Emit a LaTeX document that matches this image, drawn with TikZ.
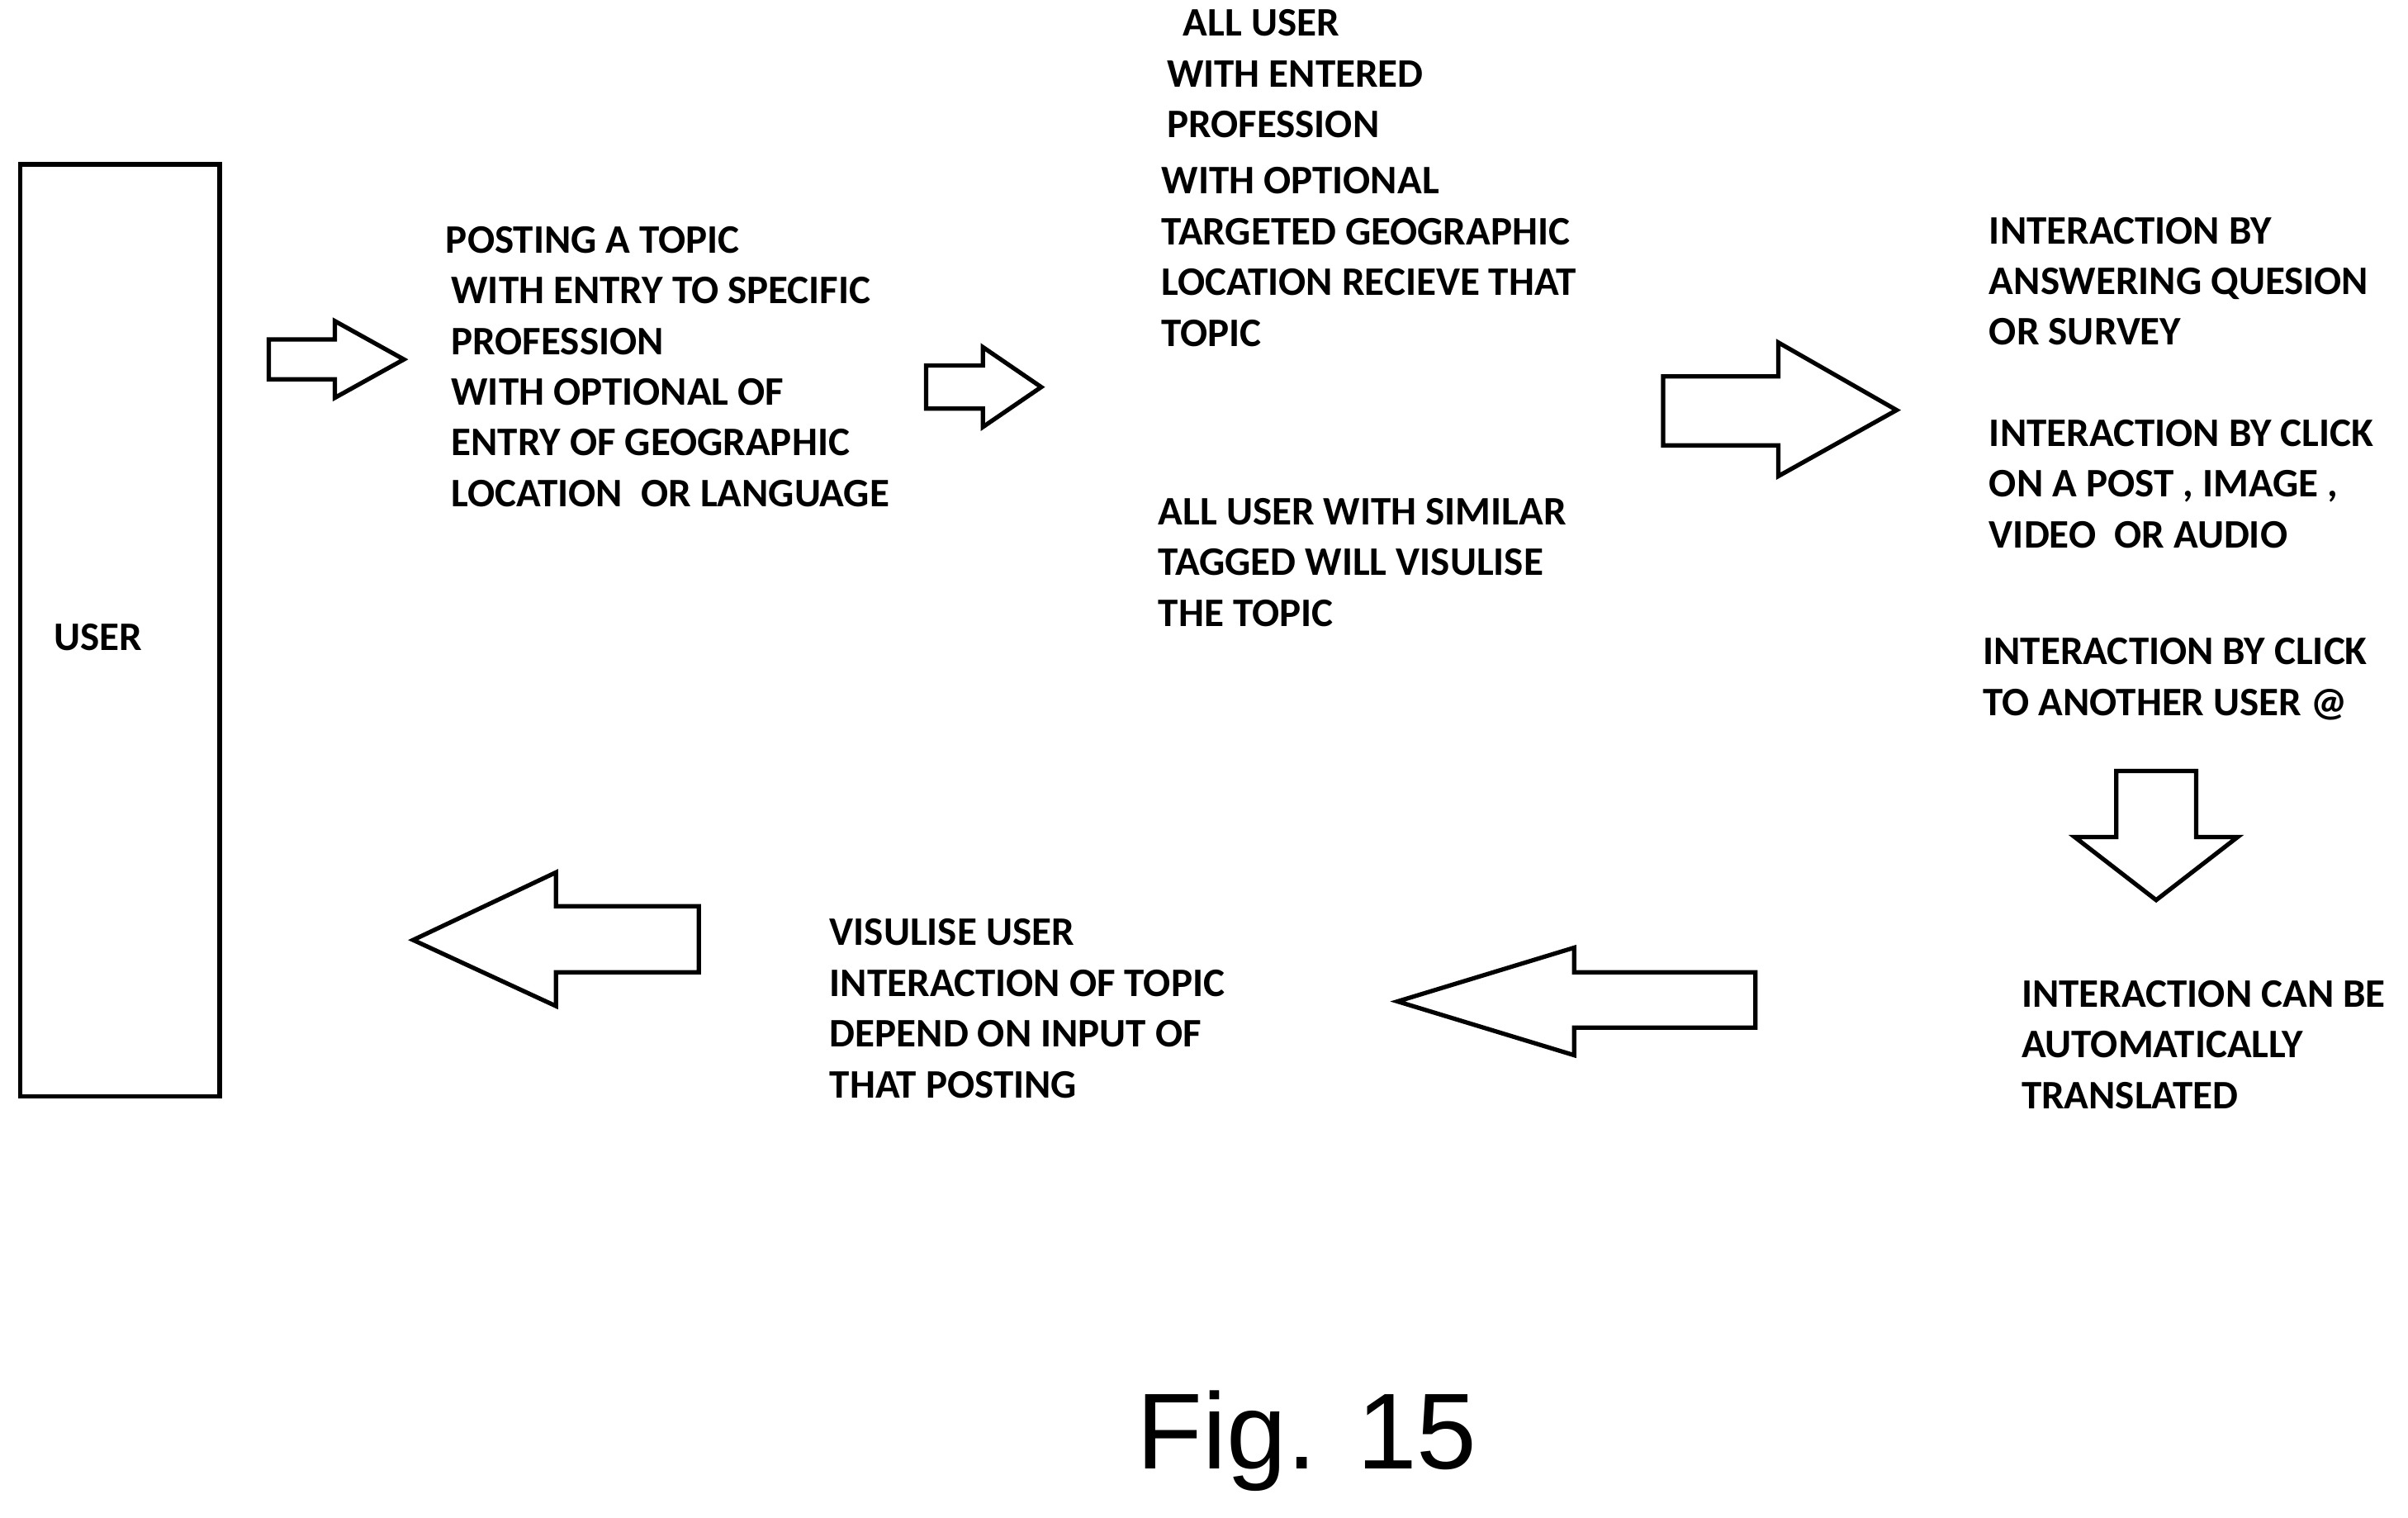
\documentclass[tikz,border=0pt]{standalone}
\usepackage{fontspec}
\setmainfont{Carlito}
\newfontfamily\figfont{Liberation Sans}
\usetikzlibrary{positioning}
\tikzset{
    blockarrow/.style={draw=black, line width=1.6pt, fill=white, line join=miter},
    flowtext/.style={anchor=north west, inner sep=0pt, align=left,
        font=\bfseries\fontsize{15}{18.8}\selectfont}
}
\begin{document}
\begin{tikzpicture}[x=0.2mm, y=-0.2mm]
        \useasboundingbox (0,0) rectangle (1568,988);
        % User box
        \draw[line width=1.6pt] (13,107) rectangle (143,714);
        \node[flowtext, anchor=west] (user) at (35,415) {USER};

        % Text blocks
        \node[flowtext] (posting) at (290,147) {POSTING A TOPIC\\
            \hspace{2pt}WITH ENTRY TO SPECIFIC\\
            \hspace{2pt}PROFESSION\\
            \hspace{2pt}WITH OPTIONAL OF\\
            \hspace{2pt}ENTRY OF GEOGRAPHIC\\
            \hspace{2pt}LOCATION\ \ OR LANGUAGE};
        \node[flowtext] (receive) at (756,6) {\hspace{8pt}ALL USER\\
            \hspace{2pt}WITH ENTERED\\
            \hspace{2pt}PROFESSION\\[2pt]
            WITH OPTIONAL\\
            TARGETED GEOGRAPHIC\\
            LOCATION RECIEVE THAT\\
            TOPIC};
        \node[flowtext] (tagged) at (754,324) {ALL USER WITH SIMILAR\\
            TAGGED WILL VISULISE\\
            THE TOPIC};
        \node[flowtext] (answer) at (1295,141) {INTERACTION BY\\
            ANSWERING QUESION\\
            OR SURVEY};
        \node[flowtext] (click) at (1295,273) {INTERACTION BY CLICK\\
            ON A POST , IMAGE ,\\
            VIDEO\ \ OR AUDIO};
        \node[flowtext] (another) at (1291,415) {INTERACTION BY CLICK\\
            TO ANOTHER USER @};
        \node[flowtext] (translate) at (1316,638) {INTERACTION CAN BE\\
            AUTOMATICALLY\\
            TRANSLATED};
        \node[flowtext] (visual) at (540,598) {VISULISE USER\\
            INTERACTION OF TOPIC\\
            DEPEND ON INPUT OF\\
            THAT POSTING};

        % Block arrows
        \draw[blockarrow] (175,221) -- (218,221) -- (218,209) -- (263,234) -- (218,259) -- (218,247) -- (175,247) -- cycle;
        \draw[blockarrow] (603,238) -- (640,238) -- (640,226) -- (678,252) -- (640,278) -- (640,266) -- (603,266) -- cycle;
        \draw[blockarrow] (1083,245) -- (1158,245) -- (1158,223) -- (1235,267) -- (1158,310) -- (1158,290) -- (1083,290) -- cycle;
        \draw[blockarrow] (1378,502) -- (1430,502) -- (1430,545) -- (1457,545) -- (1404,586) -- (1351,545) -- (1378,545) -- cycle;
        \draw[blockarrow] (1143,633) -- (1025,633) -- (1025,617) -- (910,652) -- (1025,687) -- (1025,669) -- (1143,669) -- cycle;
        \draw[blockarrow] (455,590) -- (362,590) -- (362,568) -- (269,612) -- (362,655) -- (362,633) -- (455,633) -- cycle;

        % Caption
        \node[inner sep=0pt, font=\figfont\fontsize{40}{48}\selectfont] (caption) at (851,938) {Fig. 15};
\end{tikzpicture}
\end{document}
